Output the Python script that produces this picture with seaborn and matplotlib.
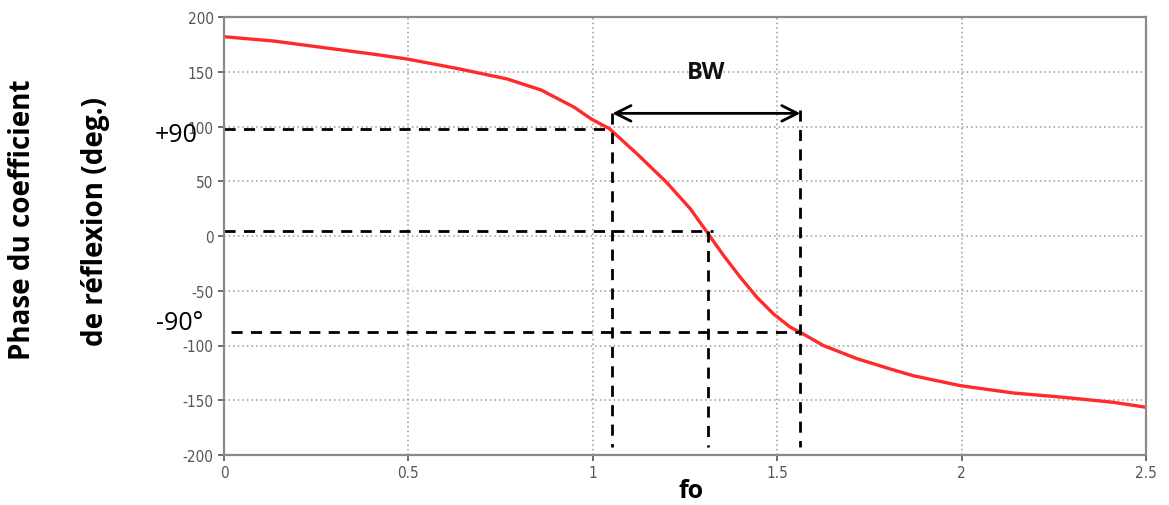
import matplotlib
matplotlib.use("Agg")
import matplotlib.pyplot as plt
import seaborn as sns
import pandas as pd

# Data
freq = [0.0, 0.136, 0.271, 0.407, 0.497, 0.632, 0.768, 0.86, 0.95, 0.996, 1.045,
        1.12, 1.16, 1.2, 1.264, 1.31, 1.355, 1.40, 1.445, 1.49, 1.536, 1.563,
        1.625, 1.716, 1.807, 1.869, 1.997, 2.141, 2.276, 2.412, 2.5]
phase = [182, 178, 172, 166, 161.6, 153, 143.4, 133.3, 117.5, 106.8, 98,
         75, 62, 49, 25, 3.4, -18, -37.7, -56, -71.2, -83.4, -88,
         -100, -112, -121.5, -127.6, -136.7, -143.4, -147.3, -151.9, -156.4]

x_ticks = [0, 0.5, 1, 1.5, 2, 2.5]
x_tick_labels = ["0", "0.5", "1", "1.5", "2", "2.5"]
y_ticks = [-200, -150, -100, -50, 0, 50, 100, 150, 200]

f_low, f0, f_high = 1.053, 1.313, 1.563
p_plus, p_zero, p_minus = 98, 5, -88
arrow_y = 112
v_bottom = -193

sns.set_theme(style="white")
plt.rcParams['font.family'] = ['DejaVu Sans']

fig = plt.figure(figsize=(11.69, 5.06), dpi=100)
ax = fig.add_axes([224/1169, 1-456/506, (1146-224)/1169, (456-18)/506])

df = pd.DataFrame({"f": freq, "phase": phase})
sns.lineplot(data=df, x="f", y="phase", ax=ax, color="#ff2a2a", linewidth=2.4)

ax.set_xlim(0, 2.5)
ax.set_ylim(-200, 200)
ax.set_xticks(x_ticks)
ax.set_xticklabels(x_tick_labels)
ax.set_yticks(y_ticks)
ax.set_yticklabels([str(v) for v in y_ticks])
ax.grid(True, linestyle=(0, (1, 2)), color="#999999", linewidth=1.1)
for s in ax.spines.values():
    s.set_color("#8a8a8a")
    s.set_linewidth(1.6)
ax.tick_params(axis="both", colors="#555555", labelsize=11, length=4, width=1.2,
               direction="out", bottom=True, left=True)
for lab in ax.get_xticklabels() + ax.get_yticklabels():
    lab.set_fontstretch("condensed")
ax.set_xlabel("")
ax.set_ylabel("")

dash = dict(color="black", linestyle=(0, (4, 3)), linewidth=2)
ax.plot([0, f_low], [p_plus, p_plus], **dash)
ax.plot([f_low, f_low], [arrow_y, v_bottom], **dash)
ax.plot([0, f0 + 0.012], [p_zero, p_zero], **dash)
ax.plot([f0, f0], [p_zero, v_bottom], **dash)
ax.plot([0.02, f_high], [p_minus, p_minus], **dash)
ax.plot([f_high, f_high], [arrow_y + 3, v_bottom], **dash)

ax.annotate("", xy=(f_low, arrow_y), xytext=(f_high, arrow_y),
            arrowprops=dict(arrowstyle="<->", color="black", lw=2,
                            mutation_scale=28, shrinkA=0, shrinkB=0))
ax.text((f_low + f_high) / 2, 150, "BW", fontsize=17, fontweight="bold",
        family="Open Sans", ha="center", va="center", color="#111111")

fig.text(176/1169, 1-136/506, "+90", fontsize=18, family="Open Sans",
         ha="center", va="center", color="black")
fig.text(180/1169, 1-324/506, "-90°", fontsize=18, family="Open Sans",
         ha="center", va="center", color="black")
fig.text(691/1169, 1-492/506, "fo", fontsize=18, family="Open Sans",
         fontweight="bold", ha="center", va="center", color="black")

fig.text(23/1169, 1-220/506, "Phase du coefficient", rotation=90, fontsize=20,
         family="Open Sans", fontweight="bold", ha="center", va="center", color="black")
fig.text(95/1169, 1-222/506, "de réflexion (deg.)", rotation=90, fontsize=20,
         family="Open Sans", fontweight="bold", ha="center", va="center", color="black")

fig.savefig("out.png", dpi=100, facecolor="white")
